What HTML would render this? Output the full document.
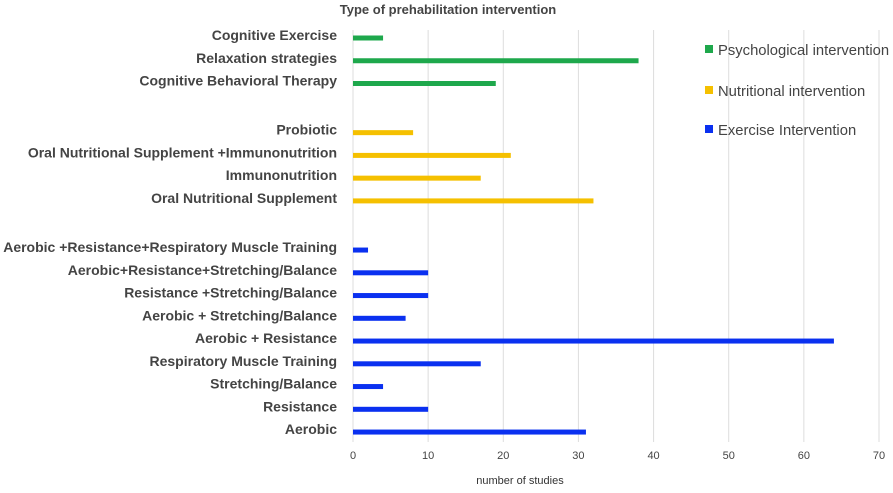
<!DOCTYPE html>
<html><head><meta charset="utf-8"><style>
body{margin:0;background:#fff;}
svg text{font-family:"Liberation Sans",sans-serif;}
</style></head><body>
<svg id="c" width="893" height="488" xmlns="http://www.w3.org/2000/svg">
<text x="448" y="14" text-anchor="middle" font-size="13" font-weight="bold" fill="#444">Type of prehabilitation intervention</text>
<g id="grid"></g><g id="bars"></g><g id="labels"></g><g id="ticks"></g>
<text x="520" y="484" text-anchor="middle" font-size="11" fill="#333">number of studies</text>
<g>
<rect x="705" y="45" width="8" height="8" fill="#1ea84c"/>
<text x="718" y="55" font-size="14.8" fill="#444">Psychological intervention</text>
<rect x="705" y="86" width="8" height="8" fill="#f5c000"/>
<text x="718" y="96" font-size="14.8" fill="#444">Nutritional intervention</text>
<rect x="705" y="125" width="8" height="8" fill="#0a30f0"/>
<text x="718" y="135" font-size="14.8" fill="#444">Exercise Intervention</text>
</g>
</svg>
<script>
const categories=["Cognitive Exercise","Relaxation strategies","Cognitive Behavioral Therapy","Probiotic","Oral Nutritional Supplement +Immunonutrition","Immunonutrition","Oral Nutritional Supplement","Aerobic +Resistance+Respiratory Muscle Training","Aerobic+Resistance+Stretching/Balance","Resistance +Stretching/Balance","Aerobic + Stretching/Balance","Aerobic + Resistance","Respiratory Muscle Training","Stretching/Balance","Resistance","Aerobic"];
const values=[4,38,19,8,21,17,32,2,10,10,7,64,17,4,10,31];
const groups=["psych","psych","psych","nutr","nutr","nutr","nutr","ex","ex","ex","ex","ex","ex","ex","ex","ex"];
const tickLabels=[0,10,20,30,40,50,60,70];
const colors={psych:"#1ea84c",nutr:"#f5c000",ex:"#0a30f0"};
const NS="http://www.w3.org/2000/svg";
const x=v=>353+v*(879-353)/70;
function y(i){let off=i<3?0:(i<7?1:2);return 38+i*22.75+off*26.4;}
const grid=document.getElementById('grid'),bars=document.getElementById('bars'),labels=document.getElementById('labels'),ticks=document.getElementById('ticks');
tickLabels.forEach(t=>{
 const l=document.createElementNS(NS,'line');
 l.setAttribute('x1',x(t));l.setAttribute('x2',x(t));l.setAttribute('y1',30);l.setAttribute('y2',442);
 l.setAttribute('stroke','#ddd');l.setAttribute('stroke-width','1');
 
 
 grid.appendChild(l);
 const tx=document.createElementNS(NS,'text');
 tx.setAttribute('x',x(t));tx.setAttribute('y',459);tx.setAttribute('text-anchor','middle');tx.setAttribute('font-size','11');tx.setAttribute('fill','#444');
 tx.textContent=t;
 
 
 ticks.appendChild(tx);
});
categories.forEach((c,i)=>{
 const r=document.createElementNS(NS,'rect');
 r.setAttribute('x',x(0));r.setAttribute('y',y(i)-2.5);r.setAttribute('width',x(values[i])-x(0));r.setAttribute('height',5);
 r.setAttribute('fill',colors[groups[i]]);
 
 
 bars.appendChild(r);
 const t=document.createElementNS(NS,'text');
 t.setAttribute('x',337);t.setAttribute('y',y(i)+2);t.setAttribute('text-anchor','end');t.setAttribute('font-size','14');t.setAttribute('font-weight','bold');t.setAttribute('fill','#444');
 t.setAttribute('textLength', '');
 t.removeAttribute('textLength');
 t.textContent=c;
 
 
 labels.appendChild(t);
});
</script>
</body></html>
